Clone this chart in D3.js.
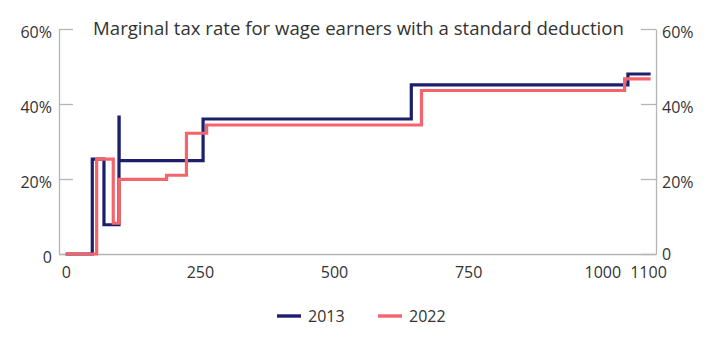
<!DOCTYPE html>
<html>
<head>
<meta charset="utf-8">
<script src="https://cdn.jsdelivr.net/npm/d3@7"></script>
<style>
  html, body { margin: 0; padding: 0; background: #fff; }
  svg { display: block; font-family: "Open Sans", sans-serif; }
</style>
</head>
<body>
<svg id="chart" width="717" height="341"></svg>
<script>
const title = "Marginal tax rate for wage earners with a standard deduction";
const seriesNames = ["2013", "2022"];
const seriesColors = ["#1b1f6c", "#f5636b"];
// income (NOK 1000) where a new marginal rate starts, and the rate
const income2013 = [0, 49.5, 71.3, 99.3, 99.6, 256, 644, 1047.7, 1090];
const rate2013   = [0, 0.253, 0.078, 0.365, 0.249, 0.36, 0.451, 0.48, 0.48];
const income2022 = [0, 57.7, 88.6, 99.8, 188, 225, 262.6, 663, 1041.5, 1090];
const rate2022   = [0, 0.253, 0.082, 0.199, 0.21, 0.322, 0.344, 0.436, 0.467, 0.467];
const xTicks = [0, 250, 500, 750, 1000, 1100];
const yTicks = [0, 0.2, 0.4, 0.6];

const svg = d3.select("#chart");
const textColor = "#333";
const axisColor = "#b5b5b5";

const x = d3.scaleLinear().domain([-12.5, 1100]).range([59, 656]);
const y = d3.scaleLinear().domain([0, 0.6]).range([254, 29]);
const yFmt = d => d === 0 ? "0" : Math.round(d * 100) + "%";

function styleAxis(g) {
  g.selectAll(".domain").attr("stroke", axisColor).attr("stroke-width", 1.3);
  g.selectAll(".tick line").attr("stroke", axisColor).attr("stroke-width", 1.3);
  g.selectAll(".tick text").attr("fill", textColor).style("font-size", "16px")
    .style("font-family", "'Open Sans', sans-serif");
}

// left axis
const gl = svg.append("g").attr("transform", `translate(${x.range()[0]},0)`)
  .call(d3.axisLeft(y).tickValues(yTicks).tickFormat(yFmt).tickSizeInner(-14).tickSizeOuter(0).tickPadding(7));
styleAxis(gl);
gl.selectAll(".tick text").attr("dy", "0.55em");

// right axis
const gr = svg.append("g").attr("transform", `translate(${x.range()[1]},0)`)
  .call(d3.axisRight(y).tickValues(yTicks).tickFormat(yFmt).tickSizeInner(-15).tickSizeOuter(0).tickPadding(6));
styleAxis(gr);
gr.selectAll(".tick text").attr("dy", d => d === 0 ? "0.35em" : "0.55em");

// bottom axis
const gb = svg.append("g").attr("transform", `translate(0,${y.range()[0]})`)
  .call(d3.axisBottom(x).tickValues(xTicks).tickFormat(d3.format("d")).tickSize(0).tickPadding(12.5));
styleAxis(gb);
gb.selectAll(".tick text").filter(d => d === 1100).attr("dx", -8);

// lines
const line = d3.line().x(d => x(d[0])).y(d => y(d[1])).curve(d3.curveStepAfter);
const data = [
  income2013.map((v, i) => [v, rate2013[i]]),
  income2022.map((v, i) => [v, rate2022[i]])
];
data.forEach((d, i) => {
  svg.append("path").datum(d).attr("d", line)
    .attr("fill", "none").attr("stroke", seriesColors[i])
    .attr("stroke-width", 3.2).attr("stroke-linejoin", "miter").attr("stroke-linecap", "butt");
});

// title
svg.append("text").attr("x", 358.5).attr("y", 35).attr("text-anchor", "middle")
  .attr("fill", textColor).style("font-size", "18.6px").text(title);

// legend
const legendX = [277, 378];
seriesNames.forEach((n, i) => {
  const g = svg.append("g").attr("transform", `translate(${legendX[i]},316)`);
  g.append("line").attr("x1", 0).attr("x2", 24).attr("y1", 0).attr("y2", 0)
    .attr("stroke", seriesColors[i]).attr("stroke-width", 3.4);
  g.append("text").attr("x", 31).attr("y", 5.5).attr("fill", textColor)
    .style("font-size", "16px").text(n);
});
</script>
</body>
</html>
